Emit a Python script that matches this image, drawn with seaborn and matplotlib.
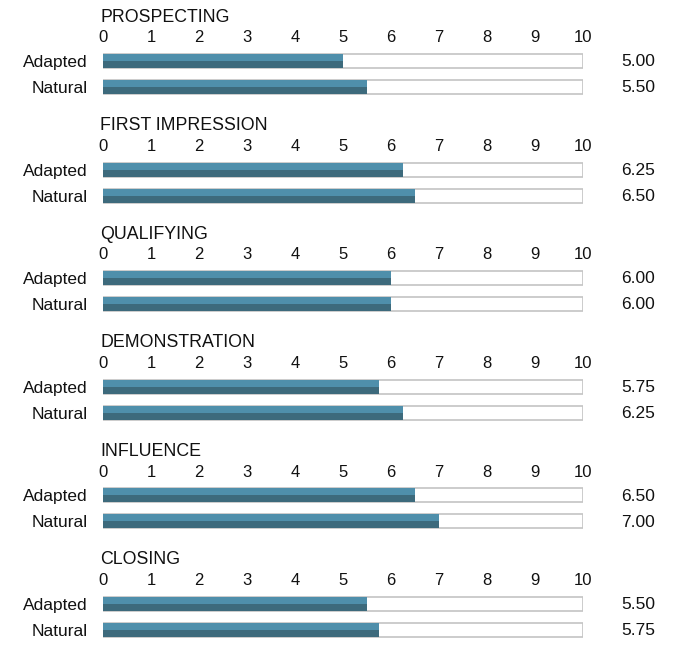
import matplotlib
matplotlib.use("Agg")
import matplotlib.pyplot as plt
import seaborn as sns
import pandas as pd

sns.set_style("white")
plt.rcParams['font.family'] = ['Liberation Sans', 'DejaVu Sans']

# date
stages = ['PROSPECTING', 'FIRST IMPRESSION', 'QUALIFYING',
          'DEMONSTRATION', 'INFLUENCE', 'CLOSING']
styles = ['Adapted', 'Natural']
adapted = [5.00, 6.25, 6.00, 5.75, 6.50, 5.50]
natural = [5.50, 6.50, 6.00, 6.25, 7.00, 5.75]
ticks = list(range(0, 11))

light = '#4f8fab'
dark = '#3d6a7c'

W, H = 690, 656
fig = plt.figure(figsize=(W / 100, H / 100), dpi=100)

panel_h = 108.6
x0, x1 = 103, 583
for i, stage in enumerate(stages):
    top = 48 + i * panel_h
    ax = fig.add_axes([x0 / W, 1 - (top + 52) / H, (x1 - x0) / W, 52 / H])
    df = pd.DataFrame({'style': styles, 'score': [adapted[i], natural[i]]})

    # fundal alb cu contur gri
    ax.barh(styles, [10, 10], height=0.54, color='white',
            edgecolor='#c4c4c4', linewidth=1.2, zorder=0)
    # bara inchisa (toata inaltimea)
    sns.barplot(data=df, x='score', y='style', orient='h', color=dark,
                width=0.54, saturation=1, linewidth=0, ax=ax, zorder=2)
    # jumatatea de sus mai deschisa
    ax.barh([0 - 0.135, 1 - 0.135], df['score'], height=0.27,
            color=light, linewidth=0, zorder=3)

    ax.set_xlim(0, 10)
    ax.set_ylim(1.5, -0.5)
    ax.set_xticks(ticks)
    ax.xaxis.tick_top()
    ax.tick_params(axis='x', length=0, pad=2, labelsize=12, colors='#111111')
    ax.tick_params(axis='y', length=0, pad=11, labelsize=12.5, colors='#111111')
    ax.set_xlabel('')
    ax.set_ylabel('')
    for s in ax.spines.values():
        s.set_visible(False)

    for j, v in enumerate(df['score']):
        ax.text(11.5, j + 0.03, f'{v:.2f}', ha='right', va='center',
                fontsize=12.5, color='#111111', clip_on=False)

    fig.text(100 / W, 1 - (top - 31) / H, stage, ha='left', va='center',
             fontsize=12.8, color='#111111')

fig.savefig('out.png', dpi=100)
